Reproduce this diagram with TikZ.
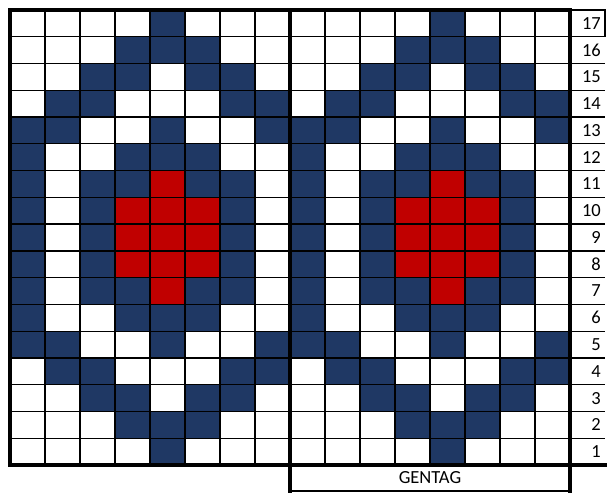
\documentclass[tikz,border=0pt]{standalone}
\usepackage{fontspec}
\setmainfont{Carlito}
\usetikzlibrary{positioning}
\definecolor{chartnavy}{RGB}{31,56,100}
\definecolor{chartred}{RGB}{192,0,0}

\begin{document}
\begin{tikzpicture}[
    x=35pt, y=26.765pt,
    navycell/.style={fill=chartnavy},
    redcell/.style={fill=chartred},
    thinrule/.style={draw=black, line width=1.3pt},
    thickrule/.style={draw=black, line width=3.5pt, line cap=rect},
    rownum/.style={font=\fontsize{18.5}{21}\selectfont, anchor=east, inner sep=0pt},
]
    \useasboundingbox (-0.2857,-1.0461) rectangle (17.0571,17.3734);
    \foreach \off in {0,8} {
        \foreach \r/\cols in {17/{5},16/{4,5,6},15/{3,4,6,7},14/{2,3,7,8},13/{1,2,5,8},12/{1,4,5,6},11/{1,3,4,6,7},10/{1,3,7},9/{1,3,7},8/{1,3,7},7/{1,3,4,6,7},6/{1,4,5,6},5/{1,2,5,8},4/{2,3,7,8},3/{3,4,6,7},2/{4,5,6},1/{5}} {
            \foreach \c in \cols {
                \fill[navycell] (\off+\c-1,\r-1) rectangle ++(1,1);
            }
        }
        \foreach \r/\cols in {11/{5},10/{4,5,6},9/{4,5,6},8/{4,5,6},7/{5}} {
            \foreach \c in \cols {
                \fill[redcell] (\off+\c-1,\r-1) rectangle ++(1,1);
            }
        }
    }
    \foreach \c in {1,...,15} {
        \draw[thinrule] (\c,0) -- (\c,17);
    }
    \foreach \r in {1,...,16} {
        \draw[thinrule] (0,\r) -- (17,\r);
    }
    \draw[thinrule] (16,16) rectangle (17,17);
    \foreach \r in {1,...,17} {
        \node[rownum] (num\r) at (16.886,\r-0.5) {\r};
    }
    \draw[thickrule] (0,0) rectangle (8,17);
    \draw[thickrule] (8,0) rectangle (16,17);
    \draw[thickrule] (0,0) -- (17,0);
    \node[font=\fontsize{18.5}{21}\selectfont, minimum width=280pt, minimum height=25pt, inner sep=0pt] (gentag) at (12,-0.46) {GENTAG};
    \draw[line width=2pt] (8,-0.953) -- (16,-0.953);
    \draw[thickrule, line cap=butt] (8,0) -- (8,-1.0461);
    \draw[thickrule, line cap=butt] (16,0) -- (16,-1.0461);
\end{tikzpicture}
\end{document}
